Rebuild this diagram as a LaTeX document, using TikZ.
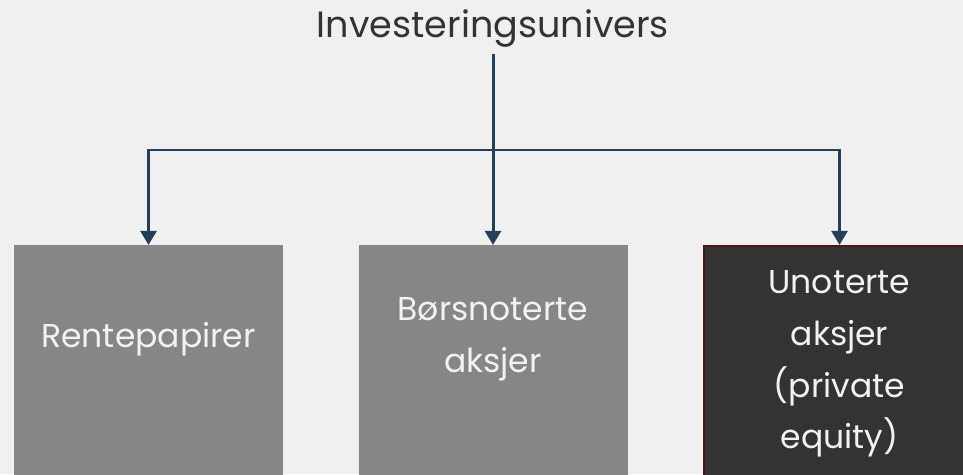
\documentclass[tikz,border=0pt]{standalone}
\usepackage{fontspec}
\setmainfont{Poppins}
\usetikzlibrary{arrows.meta,positioning}
\definecolor{bggray}{HTML}{F0F0F0}
\definecolor{boxgray}{HTML}{868686}
\definecolor{boxdark}{HTML}{333333}
\definecolor{boxborder}{HTML}{4D1616}
\definecolor{linkblue}{HTML}{243F5A}
\definecolor{titletext}{HTML}{333333}
\definecolor{boxtext}{HTML}{F2F2F2}
\begin{document}
\begin{tikzpicture}[x=0.2mm, y=-0.2mm,
    catbox/.style={draw=none, fill=boxgray, minimum width=53.8mm, minimum height=52mm, anchor=north, inner sep=0pt},
    cattext/.style={text=boxtext, font=\fontsize{18.8}{29.5}\selectfont, align=center},
    link/.style={draw=linkblue, line width=1.7pt},
    tip/.style={-{Triangle[width=9pt, length=8pt]}}]
    \clip (0,0) rectangle (963,474);
    \fill[bggray] (0,0) rectangle (963,474);

    % Top level
    \node[text=titletext, font=\fontsize{20.8}{24}\selectfont] (univers) at (493,29) {Investeringsunivers};

    % Categories
    \node[catbox] (rente) at (148.5,245) {};
    \node[catbox] (bors) at (493,245) {};
    \node[catbox, fill=boxdark, draw=boxborder, line width=1.2pt, minimum width=54.2mm] (unot) at (839.5,245) {};

    \node[cattext] (rentetxt) at (148.5,339) {Rentepapirer};
    \node[cattext] (borstxt) at (493,339) {Børsnoterte\\aksjer};
    \node[cattext] (unottxt) at (839.5,364) {Unoterte\\aksjer\\(private\\equity)};

    % Connections
    \coordinate (split) at (493,150);
    \draw[link] (univers.south) -- (split);
    \draw[link, tip] (split) -| (rente.north);
    \draw[link, tip] (split) -- (bors.north);
    \draw[link, tip] (split) -| (unot.north);
\end{tikzpicture}
\end{document}
